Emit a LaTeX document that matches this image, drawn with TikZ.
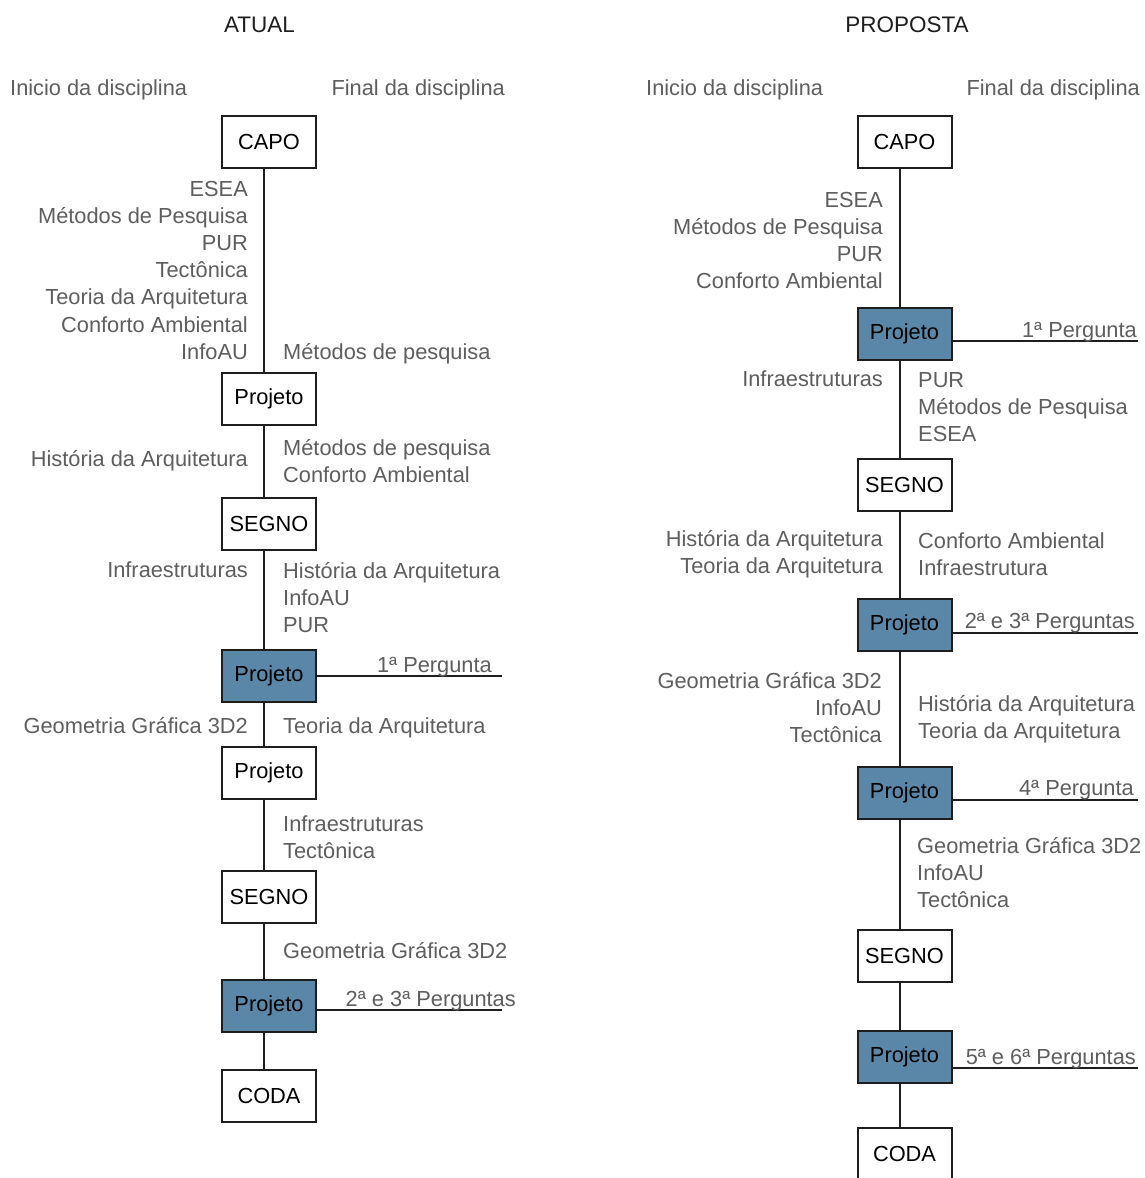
\documentclass[tikz,border=0pt]{standalone}
\usepackage{fontspec}
\setmainfont{Liberation Sans}
\definecolor{projblue}{HTML}{5A86A7}
\definecolor{lblgray}{HTML}{5E5E5E}
\definecolor{inkc}{HTML}{1E1E1E}
\tikzset{
  lbl/.style={inner sep=0pt, text=lblgray, font=\fontsize{21.8}{26}\selectfont},
  ttl/.style={inner sep=0pt, text=inkc, font=\fontsize{22.5}{27}\selectfont},
  box/.style={draw=inkc, line width=2pt, minimum width=94pt, minimum height=52pt,
              inner sep=0pt, text=black, fill=white, font=\fontsize{21.8}{26}\selectfont},
  bluebox/.style={box, fill=projblue},
  conn/.style={draw=inkc, line width=2pt}
}
\newcommand{\lblock}[5]{%
  \foreach \t [count=\i from 0] in {#5} {
    \node[lbl, anchor=#2] (#1-\i) at (#3, {#4+27.2*\i}) {\t};
  }%
}
\begin{document}
\begin{tikzpicture}[x=1pt, y=-1pt]
\useasboundingbox (0,0) rectangle (1144,1178);
\clip (0,0) rectangle (1144,1178);
\fill[white] (0,0) rectangle (1144,1178);

% ---------- headers ----------
\node[ttl, anchor=base] (tA) at (259.5,32) {ATUAL};
\node[ttl, anchor=base] (tP) at (907,32) {PROPOSTA};
\node[lbl, anchor=base west] (iA) at (10,95) {Inicio da disciplina};
\node[lbl, anchor=base east] (fA) at (505,95) {Final da disciplina};
\node[lbl, anchor=base west] (iP) at (646,95) {Inicio da disciplina};
\node[lbl, anchor=base east] (fP) at (1140,95) {Final da disciplina};

% ---------- ATUAL column ----------
\node[box]     (a1) at (269,142)    {CAPO};
\node[box]     (a2) at (269,399)    {Projeto};
\node[box]     (a3) at (269,524)    {SEGNO};
\node[bluebox] (a4) at (269,675.5)  {Projeto};
\node[box]     (a5) at (269,773)    {Projeto};
\node[box]     (a6) at (269,897)    {SEGNO};
\node[bluebox] (a7) at (269,1006)   {Projeto};
\node[box]     (a8) at (269,1095.5) {CODA};

\foreach \u/\v in {a1/a2,a2/a3,a3/a4,a4/a5,a5/a6,a6/a7,a7/a8}
  \draw[conn] ([xshift=-5pt]\u.south) -- ([xshift=-5pt]\v.north);

\coordinate (ea4) at (502,676);
\coordinate (ea7) at (502,1010);
\draw[conn] (a4.east |- ea4) -- (ea4);
\draw[conn] (a7.east |- ea7) -- (ea7);
\node[lbl, anchor=base east] (qa4) at (492,672) {1ª Pergunta};
\node[lbl, anchor=base east] (qa7) at (516,1006.5) {2ª e 3ª Perguntas};

\lblock{la1}{base east}{248}{196}{ESEA,Métodos de Pesquisa,PUR,Tectônica,Teoria da Arquitetura,Conforto Ambiental,InfoAU}
\lblock{ra1}{base west}{283}{359}{Métodos de pesquisa}
\lblock{la2}{base east}{248}{466}{História da Arquitetura}
\lblock{ra2}{base west}{283}{455}{Métodos de pesquisa,Conforto Ambiental}
\lblock{la3}{base east}{248}{577.5}{Infraestruturas}
\lblock{ra3}{base west}{283}{578}{História da Arquitetura,InfoAU,PUR}
\lblock{la4}{base east}{248}{733}{Geometria Gráfica 3D2}
\lblock{ra4}{base west}{283}{733}{Teoria da Arquitetura}
\lblock{ra5}{base west}{283}{831.5}{Infraestruturas,Tectônica}
\lblock{ra6}{base west}{283}{958}{Geometria Gráfica 3D2}

% ---------- PROPOSTA column ----------
\node[box]     (b1) at (904.5,142)    {CAPO};
\node[bluebox] (b2) at (904.5,333.5)  {Projeto};
\node[box]     (b3) at (904.5,485)    {SEGNO};
\node[bluebox] (b4) at (904.5,625)    {Projeto};
\node[bluebox] (b5) at (904.5,792.5)  {Projeto};
\node[box]     (b6) at (904.5,955.5)  {SEGNO};
\node[bluebox] (b7) at (904.5,1056.5) {Projeto};
\node[box]     (b8) at (904.5,1154)   {CODA};

\foreach \u/\v in {b1/b2,b2/b3,b3/b4,b4/b5,b5/b6,b6/b7,b7/b8}
  \draw[conn] ([xshift=-4.5pt]\u.south) -- ([xshift=-4.5pt]\v.north);

\coordinate (eb2) at (1138,341);
\coordinate (eb4) at (1138,633);
\coordinate (eb5) at (1138,800);
\coordinate (eb7) at (1138,1068);
\draw[conn] (b2.east |- eb2) -- (eb2);
\draw[conn] (b4.east |- eb4) -- (eb4);
\draw[conn] (b5.east |- eb5) -- (eb5);
\draw[conn] (b7.east |- eb7) -- (eb7);
\node[lbl, anchor=base east] (qb2) at (1137,337.5) {1ª Pergunta};
\node[lbl, anchor=base east] (qb4) at (1135,628.5) {2ª e 3ª Perguntas};
\node[lbl, anchor=base east] (qb5) at (1134,795.5) {4ª Pergunta};
\node[lbl, anchor=base east] (qb7) at (1136,1064) {5ª e 6ª Perguntas};

\lblock{lb1}{base east}{883}{207}{ESEA,Métodos de Pesquisa,PUR,Conforto Ambiental}
\lblock{lb2}{base east}{883}{386}{Infraestruturas}
\lblock{rb2}{base west}{918}{387}{PUR,Métodos de Pesquisa,ESEA}
\lblock{lb3}{base east}{883}{546}{História da Arquitetura,Teoria da Arquitetura}
\lblock{rb3}{base west}{918}{548}{Conforto Ambiental,Infraestrutura}
\lblock{lb4}{base east}{882}{688}{Geometria Gráfica 3D2,InfoAU,Tectônica}
\lblock{rb4}{base west}{918}{711}{História da Arquitetura,Teoria da Arquitetura}
\lblock{rb5}{base west}{917}{853}{Geometria Gráfica 3D2,InfoAU,Tectônica}
\end{tikzpicture}
\end{document}
